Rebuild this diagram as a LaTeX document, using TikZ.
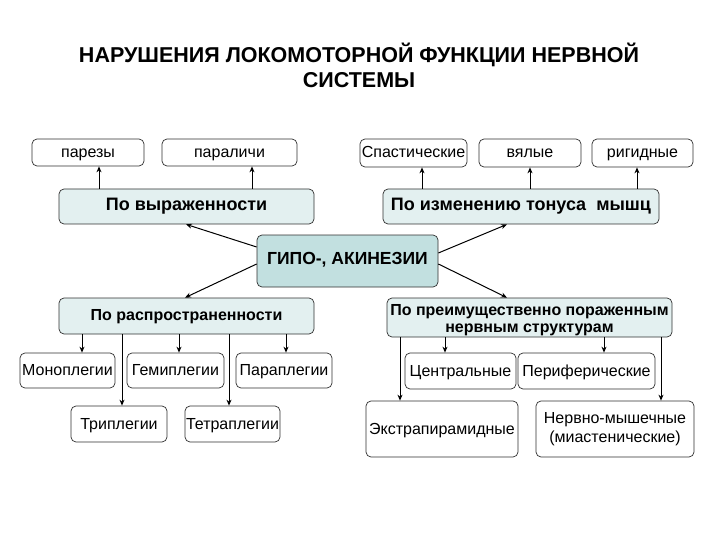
\documentclass[tikz,border=0pt]{standalone}
\usepackage{fontspec}
\setmainfont{Liberation Sans}
\usetikzlibrary{arrows.meta}
\definecolor{catfill}{HTML}{E3F0F0}
\definecolor{hubfill}{HTML}{C2E0E0}
\definecolor{edge}{HTML}{303030}
\tikzset{
  box/.style={draw=edge, line width=0.7pt, rounded corners=5pt, fill=white, inner sep=0pt, align=center,
    font=\fontsize{16}{19}\selectfont},
  one/.style={text height=1.2em, text depth=0.2em},
  leaf/.style={box, one},
  leaftwo/.style={box},
  cat/.style={box, text height=1.05em, text depth=0.2em, fill=catfill, font=\bfseries\fontsize{18}{20}\selectfont},
  catsmall/.style={box, fill=catfill, font=\bfseries\fontsize{16}{17}\selectfont},
  hub/.style={box, text height=0.9em, text depth=0.2em, fill=hubfill, font=\bfseries\fontsize{17.5}{20}\selectfont},
  arr/.style={draw=black, line width=1pt, -{Stealth[length=6pt,width=5pt]}},
}
\begin{document}
\begin{tikzpicture}[x=1pt,y=-1pt]
\useasboundingbox (0,0) rectangle (720,540);
% title
\node[font=\bfseries\fontsize{21.5}{25}\selectfont, align=center] (title) at (359,65)
  {НАРУШЕНИЯ ЛОКОМОТОРНОЙ ФУНКЦИИ НЕРВНОЙ\\СИСТЕМЫ};
% top row
\node[leaf, minimum width=112pt, minimum height=27pt] (parez) at (88,152.5) {парезы};
\node[leaf, minimum width=135pt, minimum height=27pt] (paral) at (229.5,152.5) {параличи};
\node[leaf, minimum width=107pt, minimum height=28pt] (spast) at (413.5,153) {Спастические};
\node[leaf, minimum width=102pt, minimum height=28pt] (vyal) at (530,153) {вялые};
\node[leaf, minimum width=101pt, minimum height=28pt] (rigid) at (642.5,153) {ригидные};
% categories
\node[cat, minimum width=255pt, minimum height=35pt] (vyr) at (186.5,206.5) {По выраженности};
\node[cat, minimum width=276pt, minimum height=35pt] (ton) at (521,206.5) {По изменению тонуса \ мышц};
\node[hub, minimum width=181pt, minimum height=52pt] (hub) at (347.5,261) {ГИПО-, АКИНЕЗИИ};
\node[catsmall, text height=1.1em, text depth=0.2em, minimum width=255pt, minimum height=36pt] (rasp) at (186.5,316) {По распространенности};
\node[catsmall, minimum width=285pt, minimum height=39pt,
  label={[font=\bfseries\fontsize{16}{17}\selectfont, align=center, yshift=-3pt]center:По преимущественно пораженным\\нервным структурам}]
  (preim) at (529.5,317.5) {};
% left leaves
\node[leaf, minimum width=95pt, minimum height=35pt] (mono) at (67.5,370.5) {Моноплегии};
\node[leaf, minimum width=97pt, minimum height=35pt] (hemi) at (175.5,370.5) {Гемиплегии};
\node[leaf, minimum width=96pt, minimum height=35pt] (para) at (284,370.5) {Параплегии};
\node[leaf, minimum width=96pt, minimum height=36pt] (tri) at (119,424) {Триплегии};
\node[leaf, minimum width=95pt, minimum height=36pt] (tetra) at (232.5,424) {Тетраплегии};
% right leaves
\node[leaf, minimum width=111pt, minimum height=36pt] (centr) at (460.5,371) {Центральные};
\node[leaf, minimum width=137pt, minimum height=36pt] (perif) at (586.5,371) {Периферические};
\node[leaf, minimum width=152pt, minimum height=56pt] (extra) at (442,429) {Экстрапирамидные};
\node[leaftwo, minimum width=158pt, minimum height=56pt] (nerv) at (615,429) {Нервно-мышечные\\(миастенические)};
% x positions for vertical arrows
\coordinate (x99) at (99,0);
\coordinate (x252) at (252,0);
\coordinate (x422) at (422,0);
\coordinate (x530) at (530,0);
\coordinate (x637) at (637,0);
\coordinate (x82) at (82,0);
\coordinate (x122) at (122,0);
\coordinate (x179) at (179,0);
\coordinate (x229) at (229,0);
\coordinate (x286) at (286,0);
\coordinate (x400) at (400,0);
\coordinate (x445) at (445,0);
\coordinate (x604) at (604,0);
\coordinate (x661) at (661,0);
\draw[arr] (vyr.north -| x99) -- (parez.south -| x99);
\draw[arr] (vyr.north -| x252) -- (paral.south -| x252);
\draw[arr] (ton.north -| x422) -- (spast.south -| x422);
\draw[arr] (ton.north -| x530) -- (vyal.south -| x530);
\draw[arr] (ton.north -| x637) -- (rigid.south -| x637);
\draw[arr] (rasp.south -| x82) -- (mono.north -| x82);
\draw[arr] (rasp.south -| x122) -- (tri.north -| x122);
\draw[arr] (rasp.south -| x179) -- (hemi.north -| x179);
\draw[arr] (rasp.south -| x229) -- (tetra.north -| x229);
\draw[arr] (rasp.south -| x286) -- (para.north -| x286);
\draw[arr] (preim.south -| x400) -- (extra.north -| x400);
\draw[arr] (preim.south -| x445) -- (centr.north -| x445);
\draw[arr] (preim.south -| x604) -- (perif.north -| x604);
\draw[arr] (preim.south -| x661) -- (nerv.north -| x661);
% hub arrows
\coordinate (h1) at (256,247);
\coordinate (h2) at (439,253);
\coordinate (h3) at (256,264);
\coordinate (h4) at (439,264);
\coordinate (t1) at (186,225);
\coordinate (t2) at (507,225);
\coordinate (t3) at (185,298);
\coordinate (t4) at (507,298);
\draw[arr] (hub.west |- h1) -- (vyr.south -| t1);
\draw[arr] (hub.east |- h2) -- (ton.south -| t2);
\draw[arr] (hub.west |- h3) -- (rasp.north -| t3);
\draw[arr] (hub.east |- h4) -- (preim.north -| t4);
\end{tikzpicture}
\end{document}
